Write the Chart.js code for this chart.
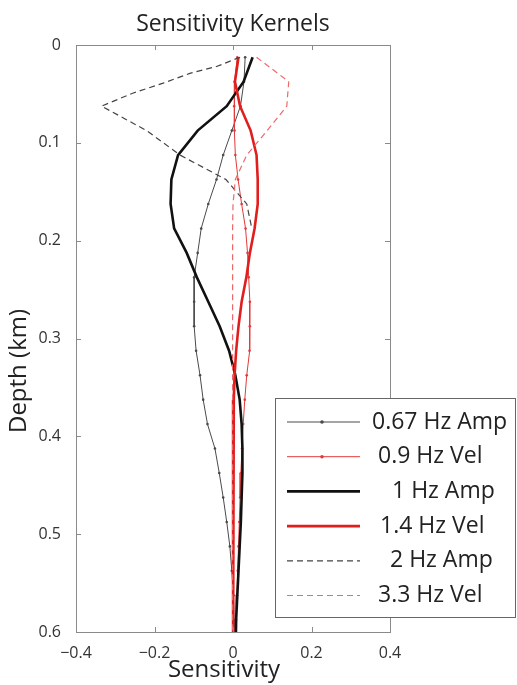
<!DOCTYPE html>
<html>
<head>
<meta charset="utf-8">
<script src="https://cdn.jsdelivr.net/npm/chart.js@4.4.0/dist/chart.umd.min.js"></script>
<style>
  body { margin: 0; background: #fff; }
  #wrap { width: 517px; height: 685px; position: relative; }
</style>
</head>
<body>
<div id="wrap"><canvas id="kernels"></canvas></div>
<script>
// depth samples (km), shared by most kernels
var depths = [0.0125, 0.0375, 0.0625, 0.0875, 0.1125, 0.1375, 0.1625, 0.1875, 0.2125, 0.2375,
              0.2625, 0.2875, 0.3125, 0.3375, 0.3625, 0.3875, 0.4125, 0.4375, 0.4625, 0.4875,
              0.5125, 0.5375, 0.5625, 0.5875, 0.6125];

var amp067 = [0.031, 0.028, 0.019, -0.003, -0.025, -0.042, -0.063, -0.081, -0.090, -0.099,
              -0.099, -0.099, -0.094, -0.084, -0.076, -0.065, -0.046, -0.035, -0.025, -0.016,
              -0.008, -0.003, 0.001, 0.003, 0.004];
var vel09  = [0.011, 0.004, 0.003, 0.004, 0.006, 0.013, 0.022, 0.032, 0.037, 0.040,
              0.043, 0.043, 0.042, 0.035, 0.030, 0.026, 0.023, 0.020, 0.018, 0.016,
              0.014, 0.012, 0.010, 0.008, 0.007];
var amp1   = [0.050, 0.027, -0.016, -0.090, -0.140, -0.157, -0.159, -0.150, -0.118, -0.092,
              -0.063, -0.034, -0.010, 0.006, 0.017, 0.022, 0.024, 0.024, 0.022, 0.020,
              0.017, 0.014, 0.011, 0.008, 0.007];
var vel14  = [0.014, 0.005, 0.018, 0.045, 0.060, 0.063, 0.063, 0.055, 0.043, 0.034,
              0.022, 0.014, 0.008, 0.004, 0.002, 0.001, 0.001, 0.000, 0.000, 0.000,
              0.000, 0.000, 0.000, 0.000, 0.000];

// 2 Hz amplitude kernel, read at finer depths near the surface
var depths2 = [0.0125, 0.022, 0.029, 0.039, 0.049, 0.0625, 0.0875, 0.1125, 0.1375, 0.1625, 0.1875];
var amp2    = [0.018, -0.042, -0.110, -0.178, -0.254, -0.335, -0.220, -0.135, -0.018, 0.035, 0.048];

var vel33  = [0.060, 0.142, 0.137, 0.087, 0.035, 0.006, 0.000, -0.001, -0.001, -0.001,
              -0.001, -0.001, -0.001, -0.001, -0.001, -0.001, -0.001, -0.001, -0.001, -0.001,
              -0.001, -0.001, -0.001, -0.001, -0.001];

var seriesLabels = ['0.67 Hz Amp', '0.9 Hz Vel', '1 Hz Amp', '1.4 Hz Vel', '2 Hz Amp', '3.3 Hz Vel'];
var xTicks = [-0.4, -0.2, 0, 0.2, 0.4];
var yTicks = [0, 0.1, 0.2, 0.3, 0.4, 0.5, 0.6];

var FONT = "'Open Sans', 'Noto Sans', sans-serif";

function toPoints(ds, vals) {
    var pts = [];
    for (var i = 0; i < vals.length; i++) {
        pts.push({ x: vals[i], y: ds[i] });
    }
    return pts;
}

function fmt(v) {
    if (Math.abs(v) < 1e-9) return '0';
    return v.toFixed(1).replace('-', '\u2212');
}

var styles = [
    { color: '#4a4a4a', width: 1,   dash: [],     dot: 1.3 },
    { color: '#e23a3a', width: 1,   dash: [],     dot: 1.3 },
    { color: '#111111', width: 2.6, dash: [],     dot: 0 },
    { color: '#e01e1e', width: 2.6, dash: [],     dot: 0 },
    { color: '#444444', width: 1.2, dash: [6, 4], dot: 0 },
    { color: '#ee6868', width: 1.2, dash: [6, 4], dot: 0 }
];
var seriesData = [
    toPoints(depths, amp067),
    toPoints(depths, vel09),
    toPoints(depths, amp1),
    toPoints(depths, vel14),
    toPoints(depths2, amp2),
    toPoints(depths, vel33)
];

var datasets = [];
for (var i = 0; i < seriesLabels.length; i++) {
    datasets.push({
        label: seriesLabels[i],
        data: seriesData[i],
        showLine: true,
        borderColor: styles[i].color,
        backgroundColor: styles[i].color,
        borderWidth: styles[i].width,
        borderDash: styles[i].dash,
        pointRadius: styles[i].dot,
        pointBorderWidth: 0,
        pointHoverRadius: 0,
        tension: 0,
        order: seriesLabels.length - 1 - i
    });
}

// box, inside ticks (matlab style), titles and legend
var framePlugin = {
    id: 'frame',
    afterDatasetsDraw: function (chart) {
        var ctx = chart.ctx, a = chart.chartArea;
        var xs = chart.scales.x, ys = chart.scales.y;
        ctx.save();
        ctx.strokeStyle = '#8a8a8a';
        ctx.lineWidth = 1;
        ctx.setLineDash([]);
        ctx.strokeRect(a.left + 0.5, a.top + 0.5, a.right - a.left, a.bottom - a.top);
        ctx.beginPath();
        xTicks.forEach(function (t) {
            var px = Math.round(xs.getPixelForValue(t)) + 0.5;
            ctx.moveTo(px, a.bottom); ctx.lineTo(px, a.bottom - 5);
            ctx.moveTo(px, a.top); ctx.lineTo(px, a.top + 5);
        });
        yTicks.forEach(function (t) {
            var py = Math.round(ys.getPixelForValue(t)) + 0.5;
            ctx.moveTo(a.left, py); ctx.lineTo(a.left + 5, py);
            ctx.moveTo(a.right, py); ctx.lineTo(a.right - 5, py);
        });
        ctx.stroke();
        ctx.restore();
    },
    afterDraw: function (chart) {
        var ctx = chart.ctx, a = chart.chartArea;
        ctx.save();
        ctx.fillStyle = '#222';
        ctx.textAlign = 'center';
        ctx.textBaseline = 'middle';
        ctx.font = '23px ' + FONT;
        ctx.fillText('Sensitivity Kernels', (a.left + a.right) / 2, 24);
        ctx.font = '24px ' + FONT;
        ctx.fillText('Sensitivity', 224, 670);
        ctx.save();
        ctx.translate(19, 371);
        ctx.rotate(-Math.PI / 2);
        ctx.fillText('Depth (km)', 0, 0);
        ctx.restore();

        // legend
        var box = { x: 275, y: 398, w: 240, h: 219 };
        ctx.fillStyle = '#fff';
        ctx.fillRect(box.x, box.y, box.w, box.h);
        ctx.strokeStyle = '#666';
        ctx.lineWidth = 1;
        ctx.strokeRect(box.x + 0.5, box.y + 0.5, box.w, box.h);
        var textX = [372, 378, 392, 380, 390, 378];
        ctx.textAlign = 'left';
        ctx.font = '23px ' + FONT;
        chart.data.datasets.forEach(function (ds, i) {
            var yy = 422 + i * 34.7;
            ctx.strokeStyle = ds.borderColor;
            ctx.lineWidth = ds.borderWidth;
            ctx.setLineDash(ds.borderDash);
            ctx.beginPath();
            ctx.moveTo(287, yy); ctx.lineTo(360, yy);
            ctx.stroke();
            ctx.setLineDash([]);
            if (ds.pointRadius > 0) {
                ctx.fillStyle = ds.borderColor;
                ctx.beginPath();
                ctx.arc(322, yy, 1.8, 0, Math.PI * 2);
                ctx.fill();
            }
            ctx.fillStyle = '#222';
            ctx.fillText(ds.label, textX[i], yy);
        });
        ctx.restore();
    }
};

var chart = new Chart(document.getElementById('kernels').getContext('2d'), {
    type: 'scatter',
    data: { datasets: datasets },
    options: {
        responsive: true,
        maintainAspectRatio: false,
        animation: false,
        layout: { padding: { top: 45, right: 127, left: 0, bottom: 0 } },
        plugins: {
            legend: { display: false },
            title: { display: false },
            tooltip: { enabled: false }
        },
        scales: {
            x: {
                type: 'linear',
                min: -0.4,
                max: 0.4,
                afterBuildTicks: function (s) { s.ticks = xTicks.map(function (v) { return { value: v }; }); },
                afterFit: function (s) { s.height = 53; },
                grid: { display: false },
                border: { display: false },
                ticks: {
                    color: '#333',
                    padding: 4,
                    font: { family: FONT, size: 16 },
                    callback: function (v) { return fmt(v); }
                }
            },
            y: {
                type: 'linear',
                reverse: true,
                min: 0,
                max: 0.6,
                afterBuildTicks: function (s) { s.ticks = yTicks.map(function (v) { return { value: v }; }); },
                afterFit: function (s) { s.width = 76; },
                grid: { display: false },
                border: { display: false },
                ticks: {
                    color: '#333',
                    padding: 7,
                    font: { family: FONT, size: 16 },
                    callback: function (v) { return fmt(v); }
                }
            }
        }
    },
    plugins: [framePlugin]
});
</script>
</body>
</html>
